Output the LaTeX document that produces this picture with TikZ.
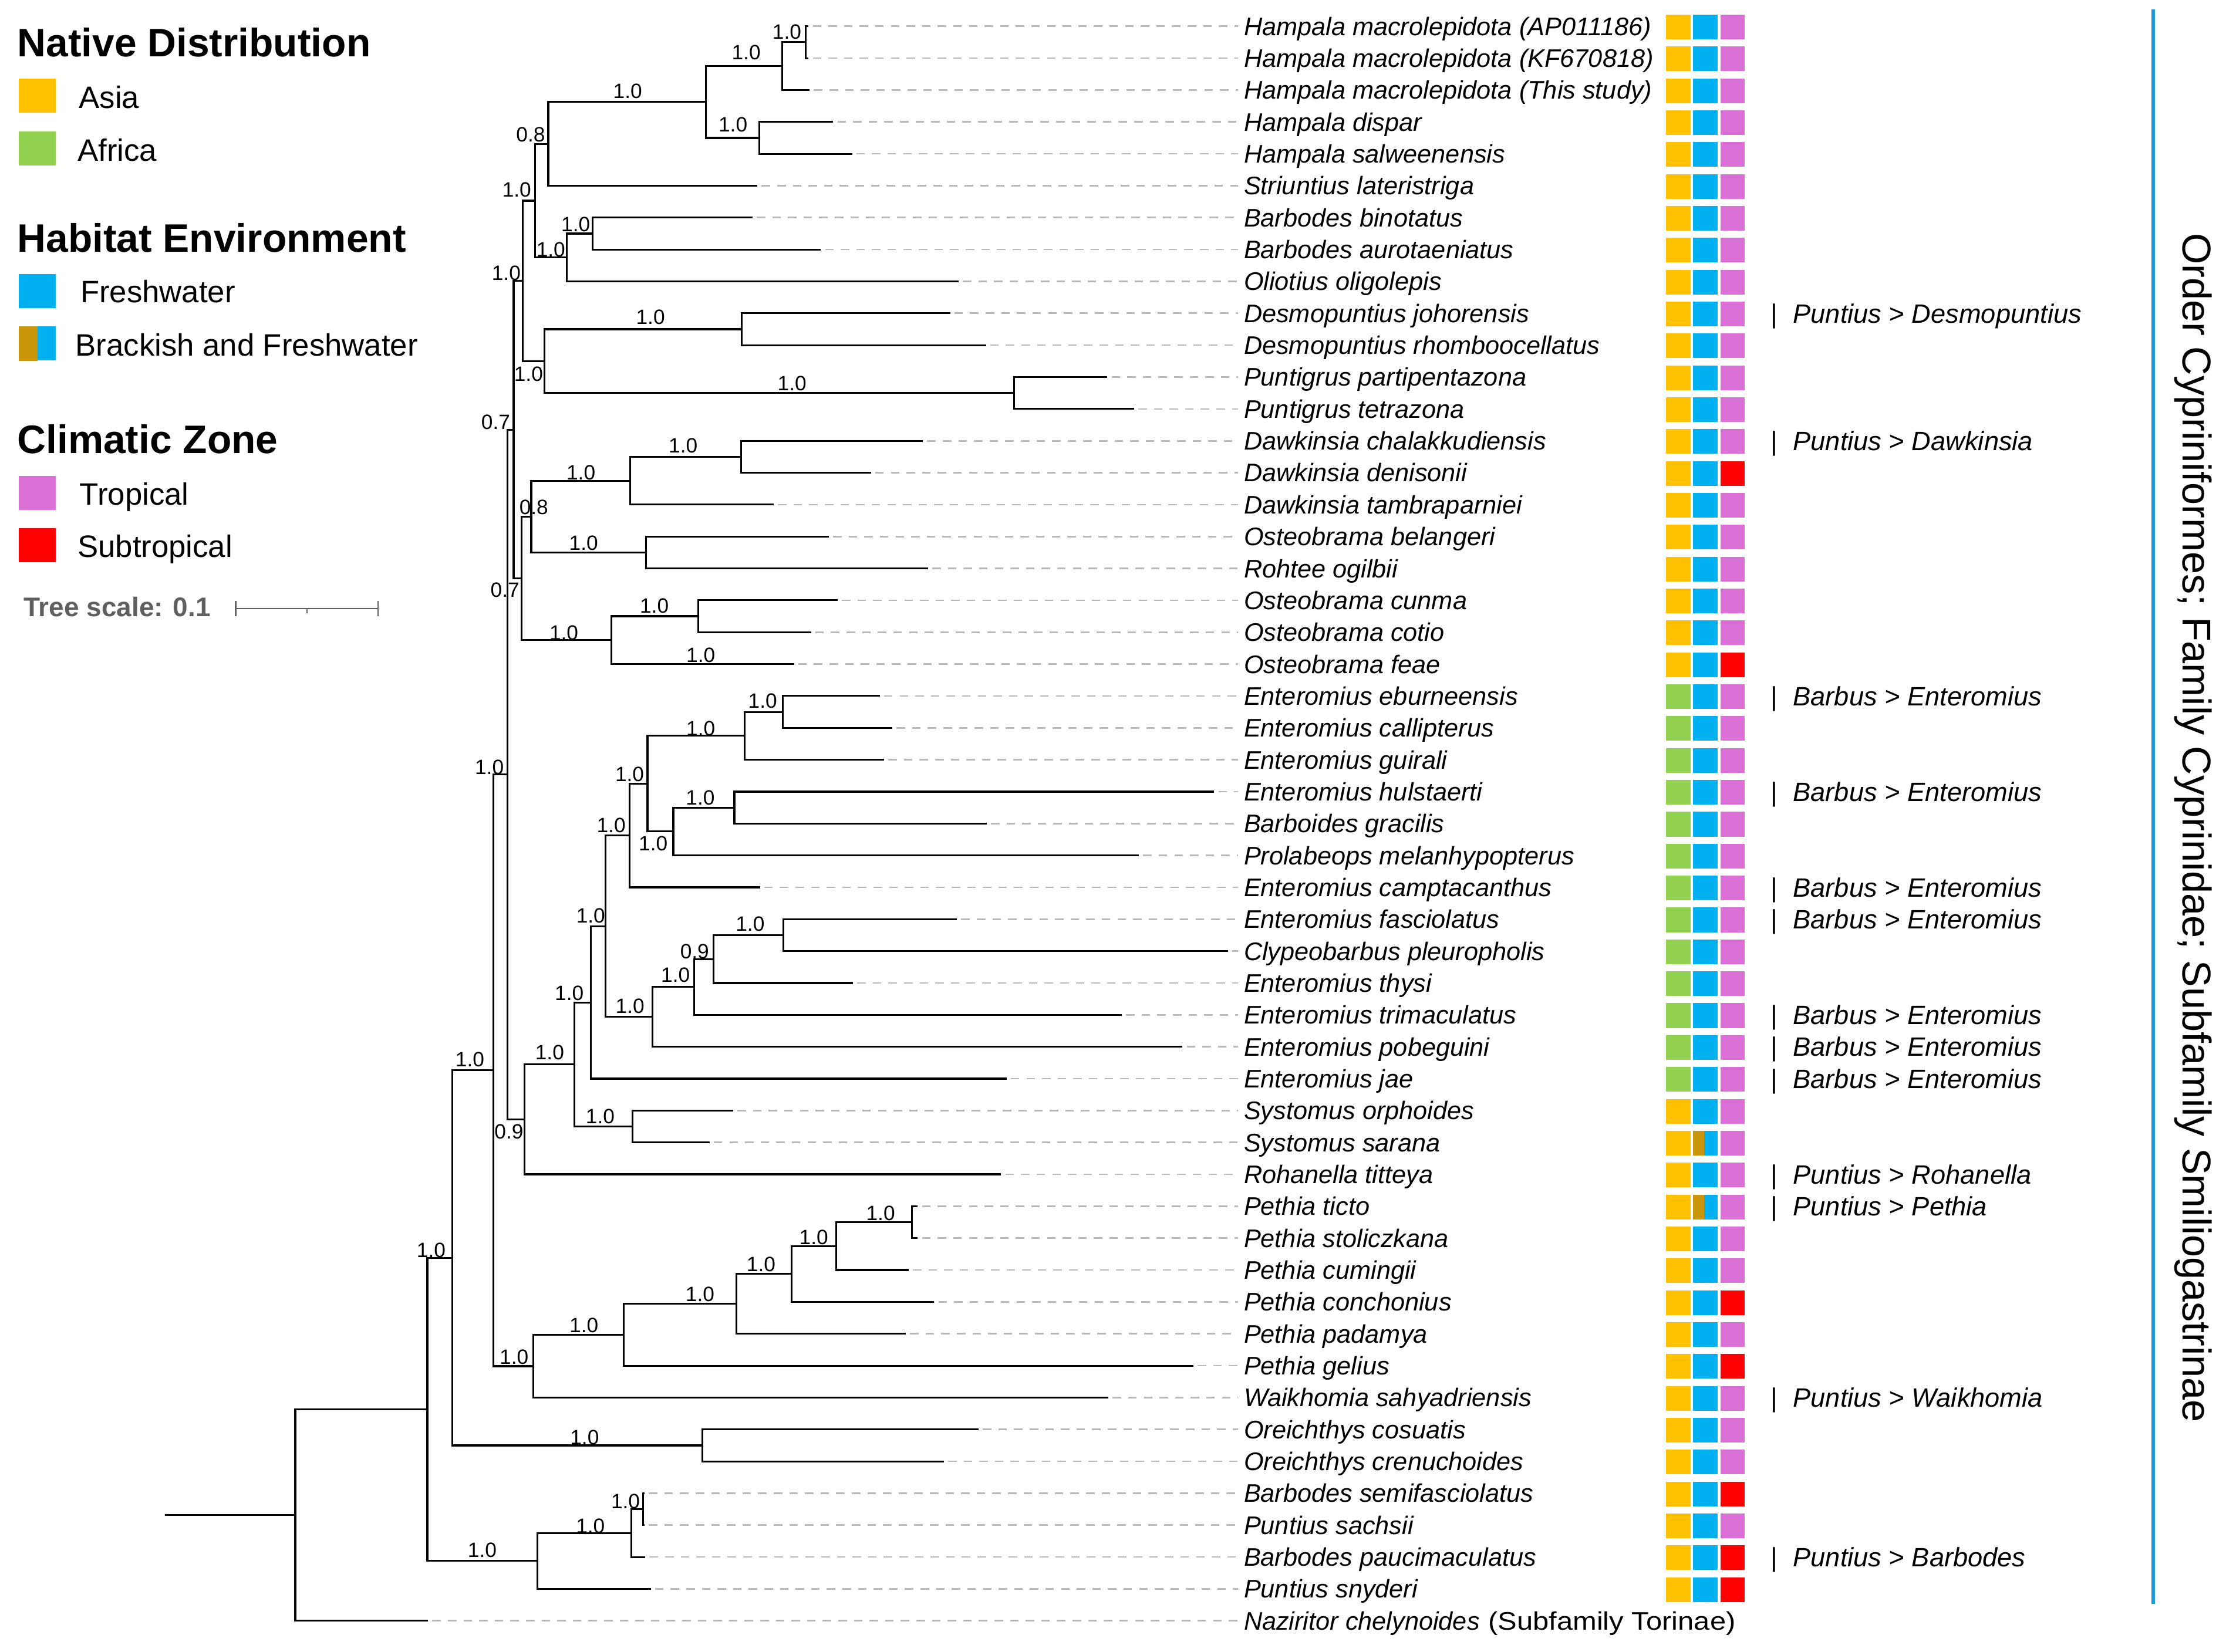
\documentclass[tikz,border=0pt]{standalone}
\usepackage{fontspec}
\setmainfont{Liberation Sans}
\newfontfamily\widesans[FakeStretch=1.13]{Liberation Sans}
\definecolor{asia}{RGB}{255,192,0}
\definecolor{africa}{RGB}{146,208,80}
\definecolor{fresh}{RGB}{0,176,240}
\definecolor{brackish}{RGB}{201,150,10}
\definecolor{tropical}{RGB}{218,112,214}
\definecolor{subtrop}{RGB}{255,0,0}
\definecolor{guidegray}{RGB}{185,185,185}
\definecolor{scalegray}{RGB}{95,95,95}
\definecolor{cladeblue}{RGB}{30,155,215}
\tikzset{
  branch/.style={line width=1.3pt, line join=miter},
  guide/.style={guidegray, line width=1.1pt, dash pattern=on 6pt off 5pt, shorten <=3pt, shorten >=4pt},
  boot/.style={inner sep=0pt, font=\fontsize{14.6}{16}\selectfont},
  taxon/.style={inner sep=0pt, anchor=base west, font=\fontsize{17.9}{20}\selectfont\itshape},
  note/.style={inner sep=0pt, anchor=base west, font=\fontsize{18.7}{21}\selectfont},
  legtitle/.style={inner sep=0pt, anchor=base west, font=\fontsize{28}{30}\selectfont\bfseries},
  legitem/.style={inner sep=0pt, anchor=base west, font=\fontsize{21.8}{24}\selectfont},
  legbox/.style={inner sep=0pt, minimum width=25.8pt, minimum height=24pt},
}
\begin{document}
\begin{tikzpicture}[x=1pt, y=-1pt]
  \fill[white] (0,0) rectangle (1568,1164);
  \useasboundingbox (0,0) rectangle (1568,1164);

  % legend
  \node[legtitle] (hNat) at (12,40.1) {Native Distribution};
  \node[legbox, fill=asia] (kAsia) at (26.3,67.35) {};
  \node[legitem] (lAsia) at (55.5,76.3) {Asia};
  \node[legbox, fill=africa] (kAfrica) at (26.3,104.5) {};
  \node[legitem] (lAfrica) at (54.5,113.6) {Africa};
  \node[legtitle] (hHab) at (12,177.6) {Habitat Environment};
  \node[legbox, fill=fresh] (kFresh) at (26.3,204.95) {};
  \node[legitem] (lFresh) at (56.5,213.3) {Freshwater};
  \node[legbox, fill=fresh] (kBrack) at (26.3,242.05) {};
  \fill[brackish] (kBrack.south west) rectangle (kBrack.north);
  \node[legitem] (lBrack) at (53,250.6) {Brackish and Freshwater};
  \node[legtitle] (hClim) at (12,319.3) {Climatic Zone};
  \node[legbox, fill=tropical] (kTrop) at (26.3,347.25) {};
  \node[legitem] (lTrop) at (56,355.8) {Tropical};
  \node[legbox, fill=subtrop] (kSub) at (26.3,384.3) {};
  \node[legitem] (lSub) at (54.5,392.8) {Subtropical};

  % tree scale
  \node[inner sep=0pt, anchor=base west, text=scalegray, font=\fontsize{19}{21}\selectfont\bfseries] (tscale) at (16.5,434.4) {Tree scale: 0.1};
  \coordinate (sb0) at (166,428.8);
  \coordinate (sbm) at (216.15,428.8);
  \coordinate (sb1) at (266.3,428.8);
  \begin{scope}[scalegray, line width=1pt]
    \draw (sb0) -- (sb1);
    \draw ([yshift=5.3pt]sb0) -- ([yshift=-5.3pt]sb0);
    \draw ([yshift=5.3pt]sb1) -- ([yshift=-5.3pt]sb1);
    \draw (sbm) -- ([yshift=-3.2pt]sbm);
  \end{scope}

  % taxa
  \foreach \tx/\name [count=\k] in {
    569.5/Hampala macrolepidota (AP011186),
    569.5/Hampala macrolepidota (KF670818),
    570.3/Hampala macrolepidota (This study),
    586.9/Hampala dispar,
    600.2/Hampala salweenensis,
    533.5/Striuntius lateristriga,
    530.0/Barbodes binotatus,
    578.2/Barbodes aurotaeniatus,
    675.2/Oliotius oligolepis,
    669.3/Desmopuntius johorensis,
    694.5/Desmopuntius rhomboocellatus,
    780.0/Puntigrus partipentazona,
    798.8/Puntigrus tetrazona,
    650.1/Dawkinsia chalakkudiensis,
    613.5/Dawkinsia denisonii,
    545.0/Dawkinsia tambraparniei,
    583.8/Osteobrama belangeri,
    653.7/Rohtee ogilbii,
    590.0/Osteobrama cunma,
    571.3/Osteobrama cotio,
    559.3/Osteobrama feae,
    619.7/Enteromius eburneensis,
    628.5/Enteromius callipterus,
    622.7/Enteromius guirali,
    855.3/Enteromius hulstaerti,
    695.0/Barboides gracilis,
    802.2/Prolabeops melanhypopterus,
    535.3/Enteromius camptacanthus,
    674.1/Enteromius fasciolatus,
    865.1/Clypeobarbus pleuropholis,
    600.8/Enteromius thysi,
    790.2/Enteromius trimaculatus,
    832.9/Enteromius pobeguini,
    709.0/Enteromius jae,
    516.4/Systomus orphoides,
    499.8/Systomus sarana,
    705.2/Rohanella titteya,
    646.5/Pethia ticto,
    646.5/Pethia stoliczkana,
    640.0/Pethia cumingii,
    658.0/Pethia conchonius,
    638.0/Pethia padamya,
    840.6/Pethia gelius,
    780.7/Waikhomia sahyadriensis,
    689.3/Oreichthys cosuatis,
    664.8/Oreichthys crenuchoides,
    454.0/Barbodes semifasciolatus,
    454.0/Puntius sachsii,
    454.5/Barbodes paucimaculatus,
    458.4/Puntius snyderi,
    301.5/{Naziritor chelynoides\hspace{1pt} {\widesans\upshape (Subfamily Torinae)}}}
  {
    \pgfmathsetmacro\yk{18.5+(\k-1)*22.47}
    \coordinate (t\k) at (\tx,\yk);
    \node[taxon] (s\k) at (876,{\yk+6.4}) {\name};
    \draw[guide] (t\k) -- (t\k -| s\k.west);
  }

  % trait boxes
  \foreach \k in {1,...,50}{
    \pgfmathsetmacro\yk{18.5+(\k-1)*22.47}
    \fill[asia] (1173.6,{\yk-8.2}) rectangle (1190.7,{\yk+9.2});
    \fill[fresh] (1192.5,{\yk-8.2}) rectangle (1209.8,{\yk+9.2});
    \fill[tropical] (1211.9,{\yk-8.2}) rectangle (1229.0,{\yk+9.2});
  }
  \foreach \k in {22,...,34}{
    \pgfmathsetmacro\yk{18.5+(\k-1)*22.47}
    \fill[africa] (1173.6,{\yk-8.2}) rectangle (1190.7,{\yk+9.2});
  }
  \foreach \k in {36,38}{
    \pgfmathsetmacro\yk{18.5+(\k-1)*22.47}
    \fill[brackish] (1192.5,{\yk-8.2}) rectangle (1200.5,{\yk+9.2});
  }
  \foreach \k in {15,21,41,43,47,49,50}{
    \pgfmathsetmacro\yk{18.5+(\k-1)*22.47}
    \fill[subtrop] (1211.9,{\yk-8.2}) rectangle (1229.0,{\yk+9.2});
  }

  % genus notes
  \foreach \r/\txt [count=\k] in {
    10/Puntius > Desmopuntius,
    14/Puntius > Dawkinsia,
    22/Barbus > Enteromius,
    25/Barbus > Enteromius,
    28/Barbus > Enteromius,
    29/Barbus > Enteromius,
    32/Barbus > Enteromius,
    33/Barbus > Enteromius,
    34/Barbus > Enteromius,
    37/Puntius > Rohanella,
    38/Puntius > Pethia,
    44/Puntius > Waikhomia,
    49/Puntius > Barbodes}
    \node[note] (g\k) at (1247,{18.5+(\r-1)*22.47+6.7}) {|\hspace{11pt}\itshape\txt};

  % clade bar
  \coordinate (barTop) at (1516.7,6.7);
  \coordinate (barBot) at (1516.7,1130);
  \draw[cladeblue, line width=2.2pt] (barTop) -- (barBot);
  \node[inner sep=0pt, rotate=-90, anchor=base west, font=\fontsize{28.3}{30}\selectfont] (order) at (1537.5,164) {Order Cypriniformes; Family Cyprinidae; Subfamily Smiliogastrinae};

  % internal nodes
  \path
    (567.5,29.74) coordinate (nA1)
    (551.0,46.59) coordinate (nA2)
    (534.8,97.15) coordinate (nA3)
    (497.3,71.87) coordinate (nA4)
    (386.2,101.36) coordinate (nA5)
    (417.5,164.56) coordinate (nB1)
    (399.4,181.41) coordinate (nB2)
    (376.9,141.39) coordinate (nC)
    (522.4,231.97) coordinate (nD1)
    (714.2,276.91) coordinate (nD2)
    (383.4,254.44) coordinate (nD3)
    (368.1,197.92) coordinate (nE)
    (521.9,321.85) coordinate (nF1)
    (444.0,338.7) coordinate (nF2)
    (455.0,389.26) coordinate (nF3)
    (374.2,363.98) coordinate (nF4)
    (491.8,434.2) coordinate (nG1)
    (430.5,451.05) coordinate (nG2)
    (367.3,407.52) coordinate (nG3)
    (361.8,302.72) coordinate (nH)
    (551.5,501.61) coordinate (nI1)
    (524.6,518.46) coordinate (nI2)
    (517.3,569.02) coordinate (nI3)
    (474.3,585.87) coordinate (nI4)
    (456.1,552.17) coordinate (nI5)
    (443.5,588.68) coordinate (nI6)
    (551.9,658.9) coordinate (nJ1)
    (502.6,675.75) coordinate (nJ2)
    (489.1,695.41) coordinate (nJ3)
    (459.5,716.48) coordinate (nJ4)
    (426.5,652.58) coordinate (nK1)
    (416.1,706.3) coordinate (nK2)
    (445.7,793.72) coordinate (nK3)
    (404.7,750.01) coordinate (nK4)
    (369.3,788.72) coordinate (nL)
    (357.3,545.72) coordinate (nM)
    (642.5,861.13) coordinate (nP1)
    (589.2,877.98) coordinate (nP2)
    (557.6,897.64) coordinate (nP3)
    (518.9,918.71) coordinate (nP4)
    (439.5,940.48) coordinate (nP5)
    (375.5,962.6) coordinate (nP6)
    (347.5,754.16) coordinate (nQ)
    (494.7,1018.42) coordinate (nO)
    (318.5,886.29) coordinate (nR)
    (453.0,1063.36) coordinate (nS1)
    (444.6,1080.21) coordinate (nS2)
    (378.7,1099.87) coordinate (nS3)
    (301.0,993.08) coordinate (nT)
    (208.0,1067.54) coordinate (root)
    (116.0,1067.54) coordinate (r0);

  \begin{scope}[branch]
    \draw (t1) -| (nA1) |- (t2);
    \draw (nA1) -| (nA2) |- (t3);
    \draw (t4) -| (nA3) |- (t5);
    \draw (nA2) -| (nA4) |- (nA3);
    \draw (nA4) -| (nA5) |- (t6);
    \draw (t7) -| (nB1) |- (t8);
    \draw (nB1) -| (nB2) |- (t9);
    \draw (nA5) -| (nC) |- (nB2);
    \draw (t10) -| (nD1) |- (t11);
    \draw (t12) -| (nD2) |- (t13);
    \draw (nD1) -| (nD3) |- (nD2);
    \draw (nC) -| (nE) |- (nD3);
    \draw (t14) -| (nF1) |- (t15);
    \draw (nF1) -| (nF2) |- (t16);
    \draw (t17) -| (nF3) |- (t18);
    \draw (nF2) -| (nF4) |- (nF3);
    \draw (t19) -| (nG1) |- (t20);
    \draw (nG1) -| (nG2) |- (t21);
    \draw (nF4) -| (nG3) |- (nG2);
    \draw (nE) -| (nH) |- (nG3);
    \draw (t22) -| (nI1) |- (t23);
    \draw (nI1) -| (nI2) |- (t24);
    \draw (t25) -| (nI3) |- (t26);
    \draw (nI3) -| (nI4) |- (t27);
    \draw (nI2) -| (nI5) |- (nI4);
    \draw (nI5) -| (nI6) |- (t28);
    \draw (t29) -| (nJ1) |- (t30);
    \draw (nJ1) -| (nJ2) |- (t31);
    \draw (nJ2) -| (nJ3) |- (t32);
    \draw (nJ3) -| (nJ4) |- (t33);
    \draw (nI6) -| (nK1) |- (nJ4);
    \draw (nK1) -| (nK2) |- (t34);
    \draw (t35) -| (nK3) |- (t36);
    \draw (nK2) -| (nK4) |- (nK3);
    \draw (nK4) -| (nL) |- (t37);
    \draw (nH) -| (nM) |- (nL);
    \draw (t38) -| (nP1) |- (t39);
    \draw (nP1) -| (nP2) |- (t40);
    \draw (nP2) -| (nP3) |- (t41);
    \draw (nP3) -| (nP4) |- (t42);
    \draw (nP4) -| (nP5) |- (t43);
    \draw (nP5) -| (nP6) |- (t44);
    \draw (nM) -| (nQ) |- (nP6);
    \draw (t45) -| (nO) |- (t46);
    \draw (nQ) -| (nR) |- (nO);
    \draw (t47) -| (nS1) |- (t48);
    \draw (nS1) -| (nS2) |- (t49);
    \draw (nS2) -| (nS3) |- (t50);
    \draw (nR) -| (nT) |- (nS3);
    \draw (nT) -| (root) |- (t51);
    \draw (r0) -- (root);
  \end{scope}

  % support values
  \foreach \x/\y/\v [count=\k] in {
    554.3/22.5/1.0, 525.6/37.1/1.0, 442.1/64.4/1.0, 516.3/87.8/1.0,
    373.8/94.7/0.8, 364.0/133.7/1.0, 405.5/158.1/1.0, 388.0/175.7/1.0,
    356.6/192.3/1.0, 458.2/223.5/1.0, 372.3/263.5/1.0, 557.9/270.3/1.0,
    349.2/297.6/0.7, 481.2/313.9/1.0, 409.2/333.0/1.0, 376.0/357.4/0.8,
    411.1/382.6/1.0, 355.7/415.7/0.7, 460.9/427.0/1.0, 397.2/445.8/1.0,
    493.6/461.8/1.0, 537.2/494.0/1.0, 493.6/513.2/1.0, 344.7/540.5/1.0,
    443.5/545.4/1.0, 493.3/562.0/1.0, 430.5/581.5/1.0, 460.1/594.2/1.0,
    416.1/645.0/1.0, 528.4/650.8/1.0, 489.3/670.3/0.9, 475.8/686.9/1.0,
    401.0/699.6/1.0, 443.8/708.9/1.0, 387.2/741.6/1.0, 331.0/746.5/1.0,
    422.8/786.5/1.0, 358.5/797.2/0.9, 620.3/854.8/1.0, 573.2/871.9/1.0,
    303.7/880.9/1.0, 536.1/890.7/1.0, 493.1/912.1/1.0, 411.3/933.8/1.0,
    362.1/956.3/1.0, 411.8/1012.6/1.0, 440.6/1058.0/1.0, 415.9/1075.1/1.0,
    339.7/1092.1/1.0}
    \node[boot] (b\k) at (\x,\y) {\v};
\end{tikzpicture}
\end{document}
